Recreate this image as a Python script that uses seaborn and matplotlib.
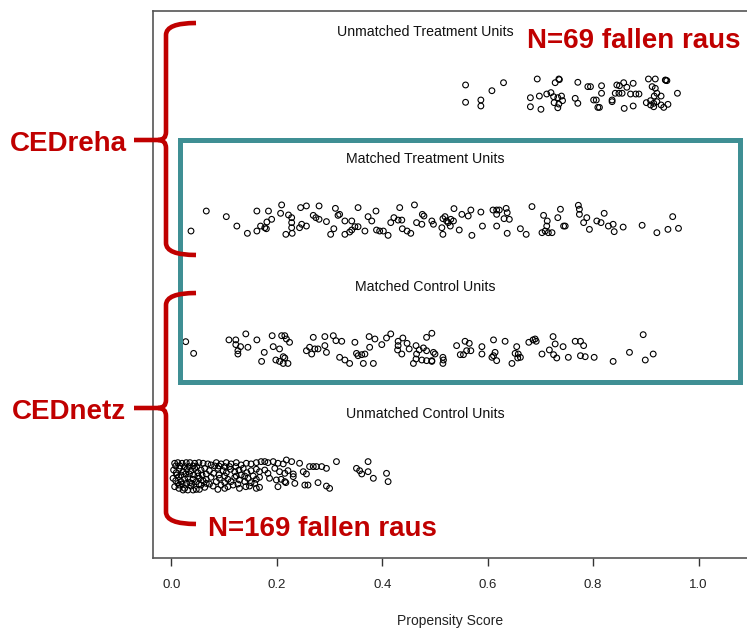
import matplotlib
matplotlib.use("Agg")
import matplotlib.pyplot as plt
import seaborn as sns
import numpy as np
import pandas as pd
from matplotlib.path import Path
from matplotlib.patches import PathPatch, Rectangle
from matplotlib.transforms import Affine2D

# (propensity score, vertical jitter)
unmatched_treat = [
    (0.558, 0.063), (0.558, -0.073), (0.587, -0.055), (0.587, -0.102), (0.608, 0.018), (0.630, 0.081),
    (0.694, 0.110), (0.681, -0.037), (0.681, -0.108), (0.698, -0.024), (0.701, -0.128), (0.712, -0.008),
    (0.720, 0.003), (0.728, 0.081), (0.735, 0.110), (0.725, -0.029), (0.733, -0.037), (0.740, -0.024),
    (0.742, -0.060), (0.726, -0.076), (0.735, -0.087), (0.733, -0.116), (0.771, 0.084), (0.766, -0.042),
    (0.771, -0.081), (0.790, 0.050), (0.795, 0.050), (0.801, -0.055), (0.806, -0.055), (0.812, -0.113),
    (0.816, 0.057), (0.816, -0.002), (0.836, -0.055), (0.836, -0.068), (0.842, -0.002), (0.845, 0.063),
    (0.850, 0.057), (0.858, 0.081), (0.864, 0.045), (0.876, 0.076), (0.849, -0.002), (0.855, -0.002),
    (0.859, -0.121), (0.876, -0.102), (0.871, -0.008), (0.881, -0.008), (0.887, -0.008), (0.905, 0.110),
    (0.918, 0.110), (0.912, 0.050), (0.918, 0.037), (0.937, 0.102), (0.940, 0.097), (0.901, -0.076),
    (0.909, -0.060), (0.915, -0.081), (0.921, -0.068), (0.929, -0.094), (0.934, -0.113), (0.942, -0.089),
    (0.921, -0.002), (0.929, -0.024), (0.916, -0.024), (0.960, -0.002), (0.915, -0.108), (0.938, 0.100),
    (0.736, 0.105), (0.809, -0.113), (0.909, -0.094),
]

matched_treat = [
    (0.037, -0.084), (0.066, 0.073), (0.104, 0.029), (0.124, -0.045), (0.144, -0.102), (0.162, 0.073),
    (0.162, -0.084), (0.169, -0.045), (0.177, -0.058), (0.180, -0.066), (0.181, -0.013), (0.190, 0.008),
    (0.184, 0.073), (0.209, 0.121), (0.207, 0.055), (0.222, 0.042), (0.228, 0.021), (0.228, -0.018),
    (0.228, -0.058), (0.217, -0.110), (0.229, -0.102), (0.245, 0.100), (0.256, 0.113), (0.247, -0.031),
    (0.256, -0.045), (0.243, -0.058), (0.280, 0.113), (0.269, 0.039), (0.274, 0.021), (0.280, 0.008),
    (0.294, -0.010), (0.311, 0.094), (0.316, 0.039), (0.319, 0.047), (0.329, -0.005), (0.342, -0.005),
    (0.308, -0.066), (0.302, -0.110), (0.329, -0.110), (0.342, -0.076), (0.348, -0.050), (0.354, -0.050),
    (0.338, -0.092), (0.354, 0.100), (0.367, -0.084), (0.373, 0.029), (0.380, -0.005), (0.388, 0.073),
    (0.389, -0.076), (0.395, -0.084), (0.402, -0.084), (0.411, -0.118), (0.416, -0.018), (0.422, 0.021),
    (0.430, 0.002), (0.437, 0.002), (0.433, 0.100), (0.438, -0.066), (0.447, -0.084), (0.454, -0.102),
    (0.461, 0.121), (0.465, -0.018), (0.475, -0.031), (0.476, 0.047), (0.479, 0.034), (0.494, -0.005),
    (0.497, -0.031),
    (0.515, 0.013), (0.519, 0.029), (0.522, -0.005), (0.525, -0.018), (0.530, 0.008), (0.535, -0.005),
    (0.513, -0.058), (0.515, -0.110), (0.529, -0.045), (0.536, 0.092), (0.546, -0.076), (0.551, 0.047),
    (0.563, 0.034), (0.568, 0.081), (0.570, -0.118), (0.587, 0.065), (0.590, -0.045), (0.610, 0.081),
    (0.617, 0.081), (0.622, 0.081), (0.635, 0.094), (0.617, 0.047), (0.637, 0.060), (0.631, 0.013),
    (0.641, 0.008), (0.617, -0.045), (0.637, -0.102), (0.662, -0.066), (0.673, -0.110), (0.684, 0.108),
    (0.706, 0.039), (0.713, -0.005), (0.712, -0.045), (0.709, -0.084), (0.703, -0.097), (0.715, -0.097),
    (0.722, -0.097), (0.733, 0.021), (0.738, 0.087), (0.744, -0.045), (0.747, -0.045), (0.772, 0.118),
    (0.774, 0.087), (0.774, 0.047), (0.782, -0.018), (0.788, 0.021), (0.793, -0.071), (0.807, -0.005),
    (0.815, -0.018), (0.821, 0.055), (0.829, -0.045), (0.838, -0.031), (0.840, -0.089), (0.857, -0.053),
    (0.893, -0.039), (0.921, -0.097), (0.942, -0.071), (0.951, 0.029), (0.962, -0.063),
]

matched_ctrl = [
    (0.027, 0.047), (0.042, -0.045), (0.109, 0.061), (0.122, 0.061), (0.141, 0.108), (0.122, 0.024),
    (0.131, 0.008), (0.126, -0.024), (0.145, 0.003), (0.126, -0.050), (0.162, 0.061), (0.176, -0.037),
    (0.171, -0.108), (0.191, 0.094), (0.209, 0.094), (0.215, 0.094), (0.218, 0.068), (0.224, 0.042),
    (0.193, 0.008), (0.205, -0.010), (0.212, -0.071), (0.198, -0.097), (0.205, -0.108), (0.212, -0.124),
    (0.221, -0.124), (0.215, -0.081), (0.269, 0.081), (0.291, 0.087), (0.307, 0.094), (0.312, 0.055),
    (0.323, 0.050), (0.256, -0.024), (0.262, 0.003), (0.272, -0.010), (0.278, -0.010), (0.291, 0.016),
    (0.294, -0.037), (0.266, -0.050), (0.319, -0.076), (0.329, -0.097), (0.338, -0.124), (0.351, -0.045),
    (0.354, -0.063), (0.361, -0.055), (0.367, -0.050), (0.376, 0.003), (0.375, 0.087), (0.386, 0.068),
    (0.348, 0.042), (0.364, -0.124), (0.383, -0.124), (0.399, 0.024), (0.408, 0.076), (0.416, 0.108),
    (0.430, 0.050), (0.430, 0.016), (0.429, -0.018), (0.439, 0.076), (0.447, 0.034), (0.451, -0.010),
    (0.437, -0.050), (0.464, 0.016), (0.470, -0.018), (0.478, -0.002), (0.484, -0.024), (0.465, -0.050),
    (0.464, -0.089), (0.459, -0.124), (0.475, -0.097), (0.497, -0.037), (0.484, -0.102), (0.494, -0.108),
    (0.484, 0.081), (0.494, 0.113),
    (0.500, -0.050), (0.515, -0.076), (0.516, -0.097), (0.515, -0.124), (0.494, -0.102),
    (0.541, 0.016), (0.548, -0.055), (0.554, -0.055), (0.557, 0.050), (0.565, 0.034), (0.560, -0.024),
    (0.568, -0.024), (0.589, 0.008), (0.589, -0.050), (0.611, 0.061), (0.633, 0.050), (0.608, -0.076),
    (0.614, -0.037), (0.617, -0.102), (0.611, -0.063), (0.646, -0.124), (0.652, -0.045), (0.655, 0.008),
    (0.658, -0.050), (0.662, -0.076), (0.657, -0.081), (0.678, 0.042), (0.686, 0.061), (0.690, 0.068),
    (0.692, 0.050), (0.703, -0.050), (0.717, -0.018), (0.724, 0.087), (0.728, 0.029), (0.725, -0.055),
    (0.731, -0.081), (0.743, 0.008), (0.753, -0.076), (0.766, 0.050), (0.776, 0.050), (0.782, 0.016),
    (0.776, -0.063), (0.785, -0.071), (0.802, -0.076), (0.838, -0.108), (0.869, -0.037), (0.895, 0.102),
    (0.899, -0.097), (0.914, -0.050),
]

unmatched_ctrl = [
    (0.006, 0.092), (0.012, 0.097), (0.020, 0.092), (0.028, 0.097), (0.035, 0.097), (0.044, 0.092),
    (0.052, 0.097), (0.060, 0.092), (0.069, 0.087), (0.075, 0.079), (0.085, 0.097), (0.094, 0.087),
    (0.104, 0.097), (0.113, 0.087), (0.123, 0.097), (0.132, 0.079), (0.142, 0.092), (0.151, 0.087),
    (0.161, 0.097), (0.170, 0.105), (0.177, 0.105), (0.183, 0.097), (0.193, 0.105), (0.202, 0.092),
    (0.212, 0.087), (0.218, 0.118), (0.228, 0.105), (0.243, 0.092), (0.262, 0.066), (0.269, 0.066),
    (0.275, 0.066), (0.285, 0.066), (0.294, 0.052), (0.313, 0.105), (0.351, 0.052), (0.373, 0.105),
    (0.004, 0.039), (0.009, 0.018), (0.015, 0.052), (0.022, 0.026), (0.029, 0.045), (0.037, 0.034),
    (0.044, 0.052), (0.050, 0.018), (0.056, 0.039), (0.063, 0.052), (0.072, 0.034), (0.080, 0.013),
    (0.088, 0.052), (0.098, 0.034), (0.104, 0.018), (0.112, 0.045), (0.120, 0.026), (0.128, 0.039),
    (0.136, 0.052), (0.143, 0.018), (0.151, 0.034), (0.161, 0.045), (0.167, 0.026), (0.177, 0.039),
    (0.183, 0.013), (0.196, 0.052), (0.205, 0.026), (0.215, 0.013), (0.221, 0.034), (0.231, 0.008),
    (0.250, 0.026), (0.256, 0.008), (0.357, 0.034), (0.361, 0.008), (0.373, 0.026), (0.383, -0.026),
    (0.408, 0.013),
    (0.003, -0.026), (0.008, -0.045), (0.014, -0.013), (0.018, -0.052), (0.025, -0.034), (0.031, -0.018),
    (0.035, -0.060), (0.041, -0.034), (0.047, -0.052), (0.053, -0.026), (0.060, -0.045), (0.066, -0.034),
    (0.075, -0.018), (0.085, -0.052), (0.091, -0.026), (0.101, -0.060), (0.107, -0.034), (0.113, -0.052),
    (0.120, -0.018), (0.129, -0.039), (0.139, -0.052), (0.145, -0.026), (0.151, -0.060), (0.161, -0.034),
    (0.167, -0.018), (0.186, -0.026), (0.199, -0.039), (0.208, -0.034), (0.215, -0.052), (0.231, -0.013),
    (0.411, -0.052),
    (0.015, -0.079), (0.025, -0.105), (0.031, -0.118), (0.037, -0.087), (0.047, -0.113), (0.056, -0.079),
    (0.063, -0.097), (0.072, -0.071), (0.088, -0.113), (0.094, -0.079), (0.107, -0.092), (0.117, -0.079),
    (0.129, -0.105), (0.141, -0.092), (0.148, -0.087), (0.158, -0.066), (0.167, -0.097), (0.202, -0.092),
    (0.217, -0.060), (0.234, -0.066), (0.253, -0.079), (0.259, -0.079), (0.278, -0.060), (0.294, -0.087),
    (0.300, -0.105),
    (0.008, 0.071), (0.016, 0.071), (0.025, 0.066), (0.033, 0.066), (0.041, 0.071), (0.048, 0.066),
    (0.010, 0.000), (0.018, 0.000), (0.027, 0.008), (0.034, 0.008), (0.042, 0.000), (0.050, -0.008),
    (0.058, 0.000), (0.066, 0.008), (0.012, -0.066), (0.020, -0.071), (0.028, -0.066), (0.039, -0.066),
    (0.052, -0.071), (0.066, -0.066), (0.006, -0.092), (0.014, -0.105), (0.022, -0.118), (0.041, -0.118),
    (0.053, -0.113), (0.082, 0.071), (0.090, 0.071), (0.101, 0.066), (0.110, 0.066), (0.122, 0.066),
    (0.132, 0.000), (0.139, -0.008), (0.155, -0.008), (0.101, -0.008), (0.090, 0.000), (0.123, -0.008),
    (0.079, -0.087), (0.101, -0.105), (0.126, -0.071), (0.161, -0.105),
]

group_names = ["Unmatched Treatment Units", "Matched Treatment Units",
               "Matched Control Units", "Unmatched Control Units"]
group_rows = [4, 3, 2, 1]
group_points = [unmatched_treat, matched_treat, matched_ctrl, unmatched_ctrl]

xticks = [0.0, 0.2, 0.4, 0.6, 0.8, 1.0]
xtick_labels = ["0.0", "0.2", "0.4", "0.6", "0.8", "1.0"]

RED = "#C00000"
TEAL = "#3F8F94"
W, H = 747, 628

sns.set_style("white")
plt.rcParams["font.family"] = ["Liberation Sans", "DejaVu Sans"]

frames = []
for name, row, pts in zip(group_names, group_rows, group_points):
    arr = np.array(pts)
    frames.append(pd.DataFrame({"score": arr[:, 0], "pos": row + arr[:, 1], "group": name}))
df = pd.concat(frames, ignore_index=True)

fig = plt.figure(figsize=(W / 100, H / 100), dpi=100)
ax = fig.add_axes([153 / W, 1 - 558 / H, 1 - 153 / W, (558 - 11) / H])

sns.scatterplot(data=df, x="score", y="pos", ax=ax, marker="o", s=17,
                facecolor="none", edgecolor="black", linewidth=0.8, legend=False)

for name, row in zip(group_names, group_rows):
    ax.text(0.481, row + 0.48, name, ha="center", va="center", fontsize=10.2, color="#111111")

ax.set_xlim(-0.0351, 1.092)
ax.set_ylim(0.348, 4.644)
ax.set_xticks(xticks)
ax.set_xticklabels(xtick_labels)
ax.set_yticks([])
ax.set_ylabel("")
ax.set_xlabel("Propensity Score", fontsize=10, color="#222222", labelpad=17)
ax.tick_params(axis="x", bottom=True, direction="out", length=6, width=1,
               pad=9, labelsize=9.5, colors="#333333", labelcolor="#222222")
for side in ["left", "top", "bottom"]:
    ax.spines[side].set_color("#555555")
    ax.spines[side].set_linewidth(1.2)
ax.spines["right"].set_visible(False)

# annotation layer in pixel coordinates (origin top-left)
pix = Affine2D().scale(1 / W, -1 / H).translate(0, 1) + fig.transFigure

fig.add_artist(Rectangle((179.5, 140), 560, 242, transform=pix, fill=False,
                         edgecolor=TEAL, linewidth=3.6))


def brace(xv, top, mid, bot, tip=196, stub=134):
    verts = [(tip, top), (xv, top), (xv, top + 12), (xv, mid - 8), (xv, mid), (xv - 8, mid),
             (xv - 8, mid), (xv, mid), (xv, mid + 8), (xv, bot - 12), (xv, bot), (tip, bot),
             (xv - 8, mid), (stub, mid)]
    codes = [Path.MOVETO, Path.CURVE3, Path.CURVE3, Path.LINETO, Path.CURVE3, Path.CURVE3,
             Path.MOVETO, Path.CURVE3, Path.CURVE3, Path.LINETO, Path.CURVE3, Path.CURVE3,
             Path.MOVETO, Path.LINETO]
    fig.add_artist(PathPatch(Path(verts, codes), transform=pix, fill=False,
                             edgecolor=RED, linewidth=3.3, capstyle="butt"))


brace(166, 23, 140, 255)
brace(166, 293, 408, 524)

red_kw = dict(transform=pix, color=RED, fontsize=20, fontweight="bold", va="center_baseline")
fig.text(10, 141, "CEDreha", ha="left", **red_kw)
fig.text(12, 409, "CEDnetz", ha="left", **red_kw)
fig.text(527, 38, "N=69 fallen raus", ha="left", **red_kw)
fig.text(208, 526, "N=169 fallen raus", ha="left", **red_kw)

fig.savefig("out.png", dpi=100)
